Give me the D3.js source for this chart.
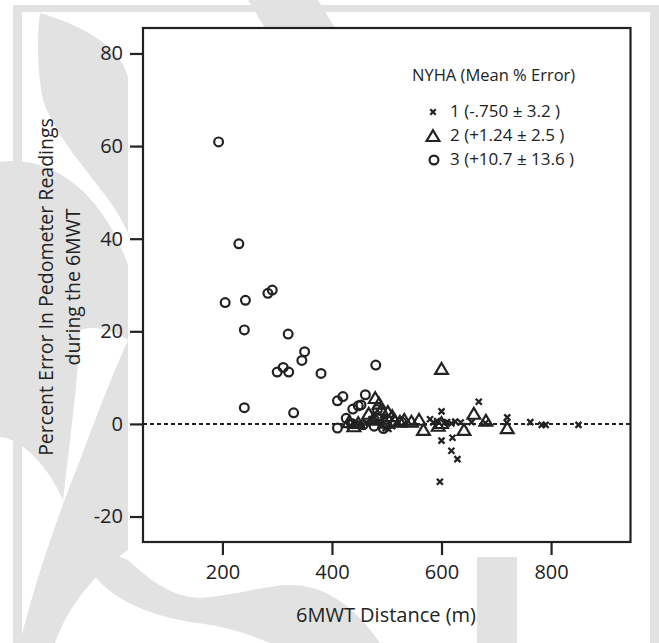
<!DOCTYPE html>
<html>
<head>
<meta charset="utf-8">
<script src="https://cdn.jsdelivr.net/npm/d3@7"></script>
<style>
  html, body { margin: 0; padding: 0; background: #ffffff; }
  svg { display: block; }
  text { font-family: "Open Sans", "Noto Sans", sans-serif; fill: #222; }
</style>
</head>
<body>
<svg id="chart" width="659" height="643"></svg>
<script>
// ---------------- data ----------------
const xTicks = [200, 400, 600, 800];
const yTicks = [-20, 0, 20, 40, 60, 80];
const legendTitle = "NYHA (Mean % Error)";
const legendLabels = ["1 (-.750 \u00b1 3.2 )", "2 (+1.24 \u00b1 2.5 )", "3 (+10.7 \u00b1 13.6 )"];

// NYHA class 1 (x markers): 6MWT distance (m), percent error
const nyha1X = [597, 600, 620, 618, 629, 668, 600, 720, 719, 762, 783, 790, 850,
                579, 585, 592, 605, 610, 618, 625, 635, 655, 680,
                433, 443, 452, 462, 498, 503, 510, 490, 472, 485];
const nyha1Y = [-12.5, -3.6, -3.0, -5.8, -7.6, 4.8, 2.7, 1.4, 0.3, 0.4, -0.2, -0.2, -0.2,
                1.0, 0.3, 0.6, 0.2, 0.4, 0.1, 0.5, 0.3, 0.4, 0.2,
                -0.4, 0.1, -0.3, 0.2, -0.9, -1.1, -0.5, -0.2, 1.0, 0.5];

// NYHA class 2 (triangles)
const nyha2X = [431, 440, 467, 479, 486, 490, 502, 510, 532, 559, 567, 600, 594, 600,
                641, 659, 681, 720, 475, 483, 497, 448, 545, 515, 524];
const nyha2Y = [0.4, -0.5, 2.2, 5.6, 4.4, 3.1, 2.6, 1.7, 0.9, 0.9, -1.3, 11.9, -0.4, 0.2,
                -1.3, 2.2, 0.7, -0.9, 0.9, 1.8, 0.3, 0.2, 0.5, 0.6, 0.5];

// NYHA class 3 (circles)
const nyha3X = [193, 230, 205, 242, 283, 291, 240, 320, 350, 345, 311, 300, 321, 380,
                480, 240, 330, 410, 420, 461, 426, 438, 410, 453, 448, 477, 436, 477,
                483, 500, 527, 457, 494];
const nyha3Y = [60.9, 38.9, 26.2, 26.7, 28.2, 28.9, 20.3, 19.4, 15.6, 13.7, 12.2, 11.2, 11.2, 10.9,
                12.7, 3.5, 2.4, 5.0, 5.9, 6.3, 1.2, 3.2, -0.9, 4.1, 3.9, -0.5, 0.1, 0.9,
                3.1, 1.0, 0.4, -0.2, -1.0];

// ---------------- layout ----------------
const W = 659, H = 643;
const box = { left: 143, right: 630.5, top: 28, bottom: 542 };
const ink = "#222";
const wm = "#e2e2e2";

const svg = d3.select("#chart");

// decorative watermark background
const deco = svg.append("g");
deco.append("rect").attr("x", 0).attr("y", 0).attr("width", W).attr("height", H).attr("fill", "#fff");
const shapes = [
  "M40,13 C80,25 120,45 128,77 L128,233 C110,190 60,150 43,100 C37,70 37,35 40,13 Z",
  "M0,162 C45,155 100,185 128,265 L128,340 C112,330 95,325 80,330 C78,380 70,440 63,500 C50,470 25,440 0,437 Z",
  "M128,340 L128,550 C100,570 70,600 55,643 L20,643 C35,580 60,510 80,460 C95,420 110,380 128,340 Z",
  "M63,500 C80,530 100,550 128,560 C160,590 180,597 200,598 C240,595 265,585 290,585 C320,585 350,600 380,643 L270,643 C240,630 215,625 190,622 C150,615 110,600 90,570 C75,550 68,525 63,500 Z",
  "M248,0 L318,0 L335,28 L265,28 Z"
];
shapes.forEach(d => deco.append("path").attr("d", d).attr("fill", wm));
deco.append("rect").attr("x", 477).attr("y", 557).attr("width", 40).attr("height", 86).attr("fill", wm);
deco.append("rect").attr("x", 13).attr("y", 5).attr("width", 9).attr("height", 638).attr("fill", wm);
deco.append("rect").attr("x", 13).attr("y", 5).attr("width", 646).attr("height", 7).attr("fill", wm);
deco.append("rect").attr("x", 650).attr("y", 5).attr("width", 9).attr("height", 638).attr("fill", wm);

// scales
const x = d3.scaleLinear().domain([55, 945]).range([box.left, box.right]);
const y = d3.scaleLinear().domain([-25.5, 85.5]).range([box.bottom, box.top]);

// plot panel
svg.append("rect")
  .attr("x", box.left).attr("y", box.top)
  .attr("width", box.right - box.left).attr("height", box.bottom - box.top)
  .attr("fill", "#fff");

// zero reference line
svg.append("line")
  .attr("x1", box.left).attr("x2", box.right)
  .attr("y1", y(0)).attr("y2", y(0))
  .attr("stroke", ink).attr("stroke-width", 2)
  .attr("stroke-dasharray", "4,3");

// axes
const fmt = d => String(d);
const yAxis = svg.append("g")
  .attr("transform", `translate(${box.left},0)`)
  .call(d3.axisLeft(y).tickValues(yTicks).tickSize(13).tickPadding(7).tickFormat(fmt));
const xAxis = svg.append("g")
  .attr("transform", `translate(0,${box.bottom})`)
  .call(d3.axisBottom(x).tickValues(xTicks).tickSize(13).tickPadding(10).tickFormat(fmt));
[yAxis, xAxis].forEach(g => {
  g.select(".domain").remove();
  g.selectAll(".tick line").attr("stroke", ink).attr("stroke-width", 2.2);
  g.selectAll(".tick text").attr("fill", ink).style("font-size", "20px")
    .style("font-family", '"Open Sans", "Noto Sans", sans-serif');
});

// frame box
svg.append("rect")
  .attr("x", box.left).attr("y", box.top)
  .attr("width", box.right - box.left).attr("height", box.bottom - box.top)
  .attr("fill", "none").attr("stroke", ink).attr("stroke-width", 2.2);

// markers
const g = svg.append("g");
const circleR = 4.4;
const sw = 2.2;
const triPath = "M0,-5.8 L6.4,5 L-6.4,5 Z";
const xPath = (s) => `M${-s},${-s} L${s},${s} M${-s},${s} L${s},${-s}`;

g.selectAll(".c3").data(d3.zip(nyha3X, nyha3Y)).join("circle")
  .attr("cx", d => x(d[0])).attr("cy", d => y(d[1])).attr("r", circleR)
  .attr("fill", "none").attr("stroke", ink).attr("stroke-width", sw);

g.selectAll(".t2").data(d3.zip(nyha2X, nyha2Y)).join("path")
  .attr("transform", d => `translate(${x(d[0])},${y(d[1])})`)
  .attr("d", triPath)
  .attr("fill", "none").attr("stroke", ink).attr("stroke-width", sw).attr("stroke-linejoin", "miter");

g.selectAll(".x1").data(d3.zip(nyha1X, nyha1Y)).join("path")
  .attr("transform", d => `translate(${x(d[0])},${y(d[1])})`)
  .attr("d", xPath(3))
  .attr("fill", "none").attr("stroke", ink).attr("stroke-width", 2.3);

// legend
const leg = svg.append("g");
leg.append("text").attr("x", 412).attr("y", 77).attr("dominant-baseline", "middle")
  .style("font-size", "16.5px").text(legendTitle);
const rowY = [112, 136, 160];
leg.append("path").attr("transform", `translate(433,${rowY[0]})`).attr("d", xPath(2.7))
  .attr("fill", "none").attr("stroke", ink).attr("stroke-width", 2.3);
leg.append("path").attr("transform", `translate(433,${rowY[1]})`).attr("d", triPath)
  .attr("fill", "none").attr("stroke", ink).attr("stroke-width", sw);
leg.append("circle").attr("cx", 434).attr("cy", rowY[2]).attr("r", circleR)
  .attr("fill", "none").attr("stroke", ink).attr("stroke-width", sw);
legendLabels.forEach((t, i) => {
  leg.append("text").attr("x", 450).attr("y", rowY[i]).attr("dominant-baseline", "middle")
    .style("font-size", "17px").text(t);
});

// axis titles
svg.append("text").attr("x", 386).attr("y", 622).attr("text-anchor", "middle")
  .style("font-size", "20px").text("6MWT Distance (m)");
const yt = svg.append("text").attr("transform", "translate(53,287) rotate(-90)")
  .attr("text-anchor", "middle").style("font-size", "19.5px");
yt.append("tspan").attr("x", 0).attr("y", 0).text("Percent Error In Pedometer Readings");
yt.append("tspan").attr("x", 0).attr("y", 27).text("during the 6MWT");
</script>
</body>
</html>
